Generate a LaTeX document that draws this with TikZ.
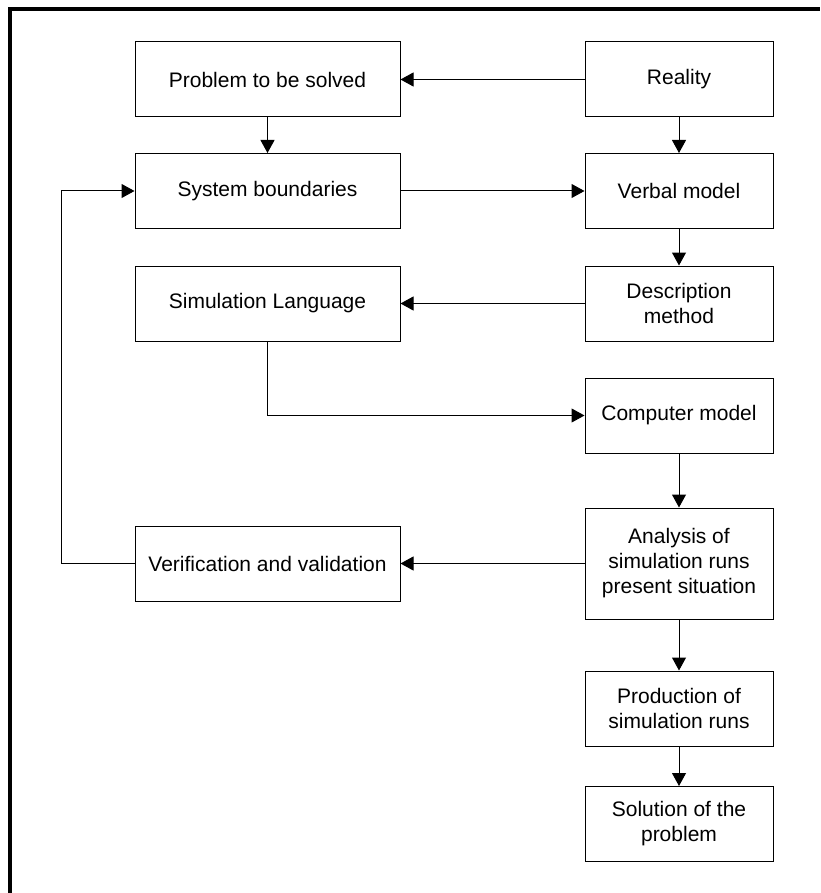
\documentclass[tikz,border=0pt]{standalone}
\usepackage{fontspec}
\setmainfont{Liberation Sans}
\usetikzlibrary{arrows.meta}

\begin{document}
\begin{tikzpicture}[x=1pt,y=-1pt]

    \tikzset{
      block/.style={
        draw,
        line width=1pt,
        rectangle,
        align=center,
        inner sep=0pt,
        minimum width=265pt,
        minimum height=75pt,
        font=\fontsize{21}{25}\selectfont,
      },
      narrow/.style={
        block,
        minimum width=188pt,
      },
      flow/.style={
        line width=1pt,
        -{Triangle[length=13pt,width=14pt]},
      },
    }
    \useasboundingbox (0,0) rectangle (820,893);
    \draw[line width=4pt] (10.3,893)--(10.3,9.5)--(820,9.5);
	\node[block] (problem) at (267.5,79.5) {Problem to be solved};
	\node[narrow] (reality) at (679,79.5) {Reality};
	\node[block] (sysb) at (267.5,191) {System boundaries};
	\node[narrow] (verbal) at (679,191) {Verbal model};
	\node[block] (simlang) at (267.5,303.5) {Simulation Language};
	\node[narrow] (descr) at (679,303.5) {Description\\method};
	\node[narrow] (comp) at (679,415.5) {Computer model};
	\node[narrow,minimum height=111pt] (analysis) at (679,563.5) {Analysis of\\simulation runs\\present situation};
	\node[block] (verif) at (267.5,563.5) {Verification and validation};
	\node[narrow] (prod) at (679,708.5) {Production of\\simulation runs};
	\node[narrow] (solution) at (679,824) {Solution of the\\problem};
	\draw[flow] (reality)--(problem);
	\draw[flow] (problem)--(sysb);
	\draw[flow] (reality)--(verbal);
	\draw[flow] (sysb)--(verbal);
	\draw[flow] (verbal)--(descr);
	\draw[flow] (descr)--(simlang);
	\draw[flow] (simlang.south) |- (comp.west);
	\draw[flow] (comp)--(analysis);
	\draw[flow] (analysis)--(verif);
	\draw[flow] (verif.west)--++(-73,0) |- (sysb.west);
	\draw[flow] (analysis)--(prod);
	\draw[flow] (prod)--(solution);

\end{tikzpicture}
\end{document}
